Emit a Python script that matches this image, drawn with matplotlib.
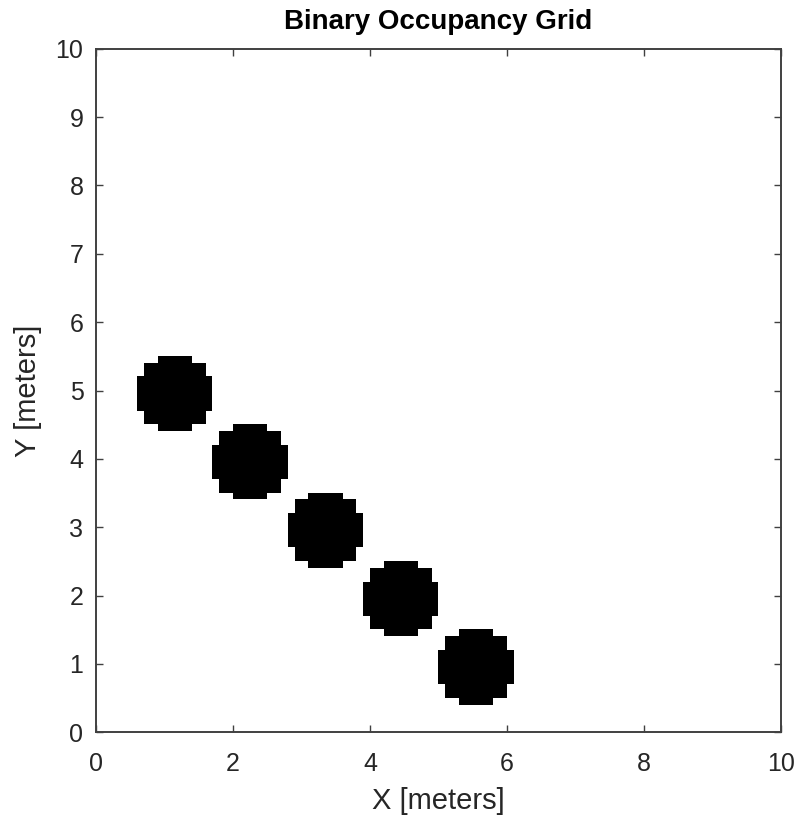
import numpy as np
import matplotlib
matplotlib.use("Agg")
import matplotlib.pyplot as plt

# Obstacle points (meters) and the map they were set in
obstacle_x = [1.2, 2.3, 3.4, 4.5, 5.6]
obstacle_y = [5.0, 4.0, 3.0, 2.0, 1.0]
map_width = 10
map_height = 10
resolution = 10  # cells per meter

# Inflated footprint around each point, row widths in cells (bottom to top)
row_widths = [5, 9, 9, 11, 11, 11, 11, 11, 9, 9, 5]

x_ticks = [0, 2, 4, 6, 8, 10]
y_ticks = [0, 1, 2, 3, 4, 5, 6, 7, 8, 9, 10]


def build_grid():
    # Occupancy array, row 0 is the bottom of the map
    grid = np.zeros((map_height * resolution, map_width * resolution))
    half = len(row_widths) // 2
    for x, y in zip(obstacle_x, obstacle_y):
        col = int(round(x * resolution)) - 1
        row = int(round(y * resolution)) - 1
        for i, w in enumerate(row_widths):
            r = row + i - half
            c0 = col - w // 2
            grid[r, c0:c0 + w] = 1
    return grid


def main():
    plt.rcParams['font.family'] = ['Liberation Sans', 'DejaVu Sans']
    text_color = '#262626'

    fig = plt.figure(figsize=(8.02, 8.23), dpi=100)
    ax = fig.add_axes([0.1197, 0.1102, 0.8541, 0.8306])

    grid = build_grid()
    ax.imshow(grid, cmap='gray_r', vmin=0, vmax=1, origin='lower',
              extent=[0, map_width, 0, map_height], interpolation='nearest',
              aspect='auto')

    ax.set_xlim(0, map_width)
    ax.set_ylim(0, map_height)
    ax.set_xticks(x_ticks)
    ax.set_yticks(y_ticks)

    for spine in ax.spines.values():
        spine.set_color('#404040')
        spine.set_linewidth(1.4)

    ax.tick_params(axis='both', direction='in', length=5, width=1.0,
                   color='#404040', labelcolor=text_color, labelsize=18,
                   top=True, right=True)
    ax.tick_params(axis='x', pad=14)
    ax.tick_params(axis='y', pad=9)

    ax.set_title('Binary Occupancy Grid', fontsize=20, fontweight='bold',
                 color='black', pad=14)
    ax.set_xlabel('X [meters]', fontsize=21, color=text_color, labelpad=8)
    ax.set_ylabel('Y [meters]', fontsize=21, color=text_color, labelpad=10)

    fig.savefig('out.png', dpi=100)


if __name__ == "__main__":
    main()
